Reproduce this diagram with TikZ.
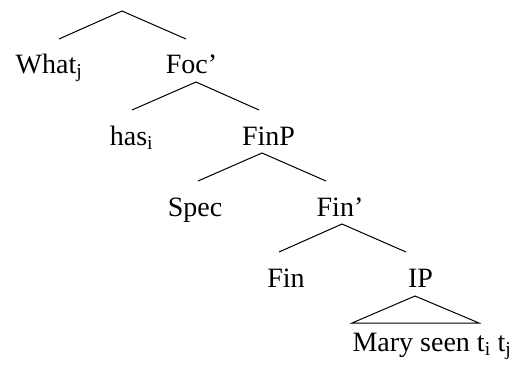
\documentclass[tikz,border=0pt]{standalone}
\usepackage{fontspec}
\setmainfont{Liberation Serif}
\begin{document}
\begin{tikzpicture}[x=1pt,y=-1pt,
  lbl/.style={anchor=base,inner sep=0pt,font=\fontsize{28}{34}\selectfont},
  edge/.style={line width=1pt,line join=miter}]
\useasboundingbox (0,0) rectangle (516,365);
% labels
\node[lbl] (what) at (49,73) {What\textsubscript{j}};
\node[lbl] (focbar) at (191.5,73) {Foc'};
\node[lbl] (has) at (131.5,145) {has\textsubscript{i}};
\node[lbl] (finp) at (268.5,145) {FinP};
\node[lbl] (spec) at (195,216) {Spec};
\node[lbl] (finbar) at (340,216) {Fin'};
\node[lbl] (fin) at (286,287) {Fin};
\node[lbl] (ip) at (420.5,287) {IP};
\node[lbl] (mary) at (432,351) {Mary seen t\textsubscript{i} t\textsubscript{j}};
% branch points
\coordinate (r-top) at (122,11);
\coordinate (what-top) at (59,39);
\coordinate (focbar-top) at (186,39);
\coordinate (focbar-bot) at (196,82);
\coordinate (has-top) at (132,110);
\coordinate (finp-top) at (259,110);
\coordinate (finp-bot) at (262,153);
\coordinate (spec-top) at (198,181);
\coordinate (finbar-top) at (326,181);
\coordinate (finbar-bot) at (342,224);
\coordinate (fin-top) at (279,252);
\coordinate (ip-top) at (406,252);
\coordinate (ip-bot) at (415,296);
\coordinate (tri-l) at (352,323);
\coordinate (tri-r) at (479,323);
% edges
\draw[edge] (what-top) -- (r-top) -- (focbar-top);
\draw[edge] (has-top) -- (focbar-bot) -- (finp-top);
\draw[edge] (spec-top) -- (finp-bot) -- (finbar-top);
\draw[edge] (fin-top) -- (finbar-bot) -- (ip-top);
\draw[edge] (ip-bot) -- (tri-l) -- (tri-r) -- cycle;
\end{tikzpicture}
\end{document}
